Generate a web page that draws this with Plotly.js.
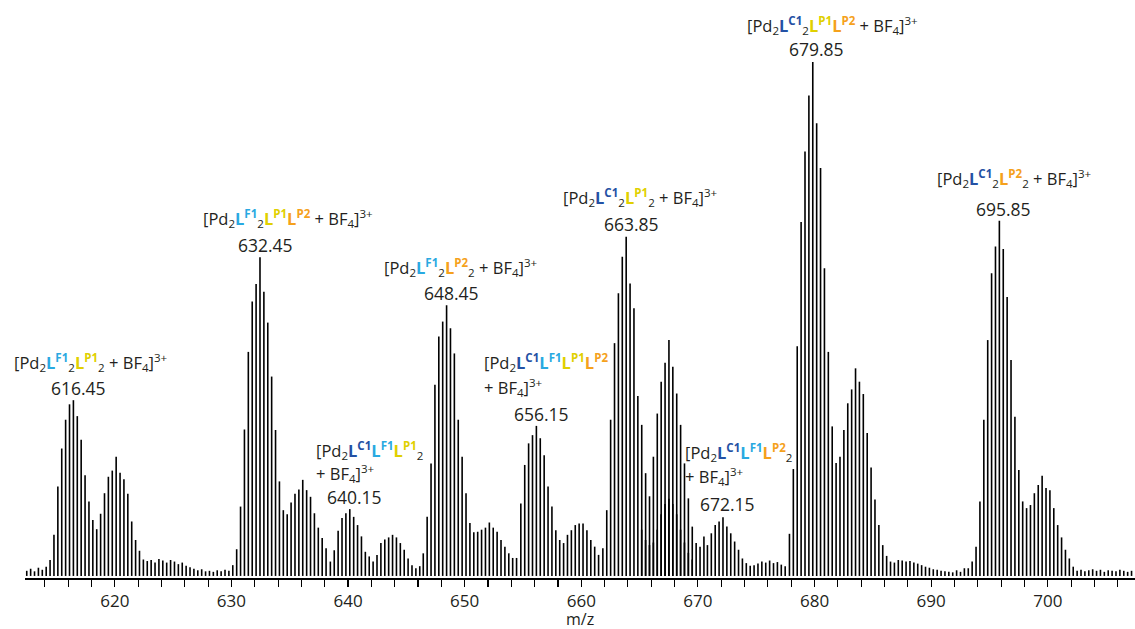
<!DOCTYPE html>
<html>
<head>
<meta charset="utf-8">
<script src="https://cdn.plot.ly/plotly-3.0.1.min.js"></script>
<style>
  html, body { margin: 0; padding: 0; background: #ffffff; }
  #chart { width: 1135px; height: 629px; }
</style>
</head>
<body>
<div id="chart"></div>
<script>
// ESI-MS of the [Pd2L4 + BF4]3+ library: isotope sticks of 3+ ions are 1/3 m/z apart.
const ISO_STEP = 1 / 3;

// Most abundant isotope of each species (m/z), as labelled.
const apexMz = [616.45, 632.45, 640.15, 648.45, 656.15, 663.85, 672.15, 679.85, 695.85];

// Number of isotope sticks listed before each apex.
const sticksBeforeApex = [12, 7, 5, 6, 4, 6, 4, 6, 8];

// Relative intensities (%) of the sticks around each apex.
const int616 = [1.0, 1.4, 0.9, 1.6, 1.2, 1.8,
  3.1, 8.0, 17.4, 24.8, 30.4, 33.4, 34.2, 31.1, 26.5, 19.6, 14.5, 10.9, 9.1, 12.1, 16.1, 19.3,
  20.5, 23.2, 20.1, 18.8, 16.0, 10.6, 7.0, 4.9, 3.2, 2.9, 3.1, 2.6, 3.3, 3.0, 2.6, 3.1, 2.8,
  2.3, 2.6, 2.0, 1.7, 1.4, 1.1, 1.3, 0.9, 1.0, 0.8, 1.1, 0.9, 1.2, 1.0];
const int632 = [2.1, 5.2, 13.5, 28.5, 43.6, 53.4, 56.8, 62.0, 55.3, 49.3, 38.8, 28.4, 18.4,
  12.8, 12.0, 14.3, 16.0, 16.8, 18.7, 16.7, 15.4, 12.2, 9.4, 7.4, 5.4];
const int640 = [2.8, 5.0, 8.8, 11.3, 12.2, 13.0, 11.5, 9.9, 7.7, 4.7, 3.8, 2.8, 4.1, 6.4, 7.1,
  7.5, 8.0, 7.5, 6.4, 5.1, 3.4, 2.1, 1.5, 1.9];
const int648 = [4.4, 11.5, 21.9, 37.2, 46.6, 49.5, 52.7, 48.2, 43.3, 30.4, 23.2, 16.1, 10.3,
  8.5, 8.6, 9.0, 9.4, 10.4, 9.4, 8.6, 7.0, 5.7, 4.4, 3.5, 3.5];
const int656 = [14.1, 21.6, 25.8, 27.4, 29.2, 26.8, 23.5, 17.4, 13.5, 8.9, 7.0, 6.4, 8.0, 8.9,
  9.9, 10.2, 10.2, 8.9, 7.0, 5.7, 4.1];
const int663 = [5.4, 12.8, 30.4, 45.3, 55.0, 62.1, 66.0, 56.9, 52.1, 35.0, 29.4, 20.0, 15.5,
  23.2, 31.6, 37.8, 41.5, 45.9, 40.7, 35.5, 29.4, 21.9, 15.1, 9.6, 6.4, 5.7, 7.7];
const int672 = [6.0, 8.3, 9.9, 10.6, 11.4, 9.6, 8.3, 6.7, 5.1, 3.4, 2.5, 2.0, 2.1, 2.4, 2.8,
  2.6, 3.0, 2.5, 2.7, 2.2, 1.9];
const int679 = [8.2, 20.8, 44.7, 68.9, 82.6, 93.5, 100, 88.1, 79.4, 59.9, 43.6, 29.1, 22.0,
  23.2, 28.4, 33.6, 36.3, 40.4, 37.8, 35.4, 27.8, 21.1, 14.9, 9.9, 6.0, 3.9, 2.8, 2.6, 3.1,
  3.0, 2.8, 2.9, 2.6, 2.4, 2.1, 1.8, 1.6, 1.3, 1.2, 1.0, 0.9, 0.8, 0.7, 1.1, 0.8, 1.5];
const int695 = [1.5, 2.8, 5.7, 14.5, 30.4, 45.9, 58.9, 64.1, 69.1, 63.6, 54.3, 42.0, 31.0,
  20.6, 14.5, 13.2, 13.8, 16.1, 17.7, 19.5, 17.1, 16.7, 13.2, 9.9, 7.5, 5.1, 3.4, 1.8, 1.0,
  1.2, 0.9, 1.1, 1.3, 1.0, 1.2, 0.8, 1.1, 1.0, 0.9, 1.2, 1.0, 0.8, 1.0];
const clusterInt = [int616, int632, int640, int648, int656, int663, int672, int679, int695];

// Overlapping minor species between the 663.85 and 672.15 envelopes.
const minorStartMz = [665.18];
const minorInt = [
  [9.0, 7.0, 6.0, 6.5, 9.0, 12.0, 14.0, 15.0, 14.0, 12.0, 9.0, 6.5, 4.5, 3.2]
];

// Species formulas for each labelled apex.
const C1 = '#2451a4', F1 = '#29a9e1', P1 = '#e0d000', P2 = '#f5a11c';
function lig(tag, color) {
  return '<span style="color:' + color + '"><b>L</b><sup><b>' + tag + '</b></sup></span>';
}
const PD = '[Pd<sub>2</sub>';
const TAIL = ' + BF<sub>4</sub>]<sup>3+</sup>';
const formulaLines = [
  [PD + lig('F1', F1) + '<sub>2</sub>' + lig('P1', P1) + '<sub>2</sub>' + TAIL],
  [PD + lig('F1', F1) + '<sub>2</sub>' + lig('P1', P1) + lig('P2', P2) + TAIL],
  [PD + lig('C1', C1) + lig('F1', F1) + lig('P1', P1) + '<sub>2</sub>', TAIL.trim()],
  [PD + lig('F1', F1) + '<sub>2</sub>' + lig('P2', P2) + '<sub>2</sub>' + TAIL],
  [PD + lig('C1', C1) + lig('F1', F1) + lig('P1', P1) + lig('P2', P2), TAIL.trim()],
  [PD + lig('C1', C1) + '<sub>2</sub>' + lig('P1', P1) + '<sub>2</sub>' + TAIL],
  [PD + lig('C1', C1) + lig('F1', F1) + lig('P2', P2) + '<sub>2</sub>', TAIL.trim()],
  [PD + lig('C1', C1) + '<sub>2</sub>' + lig('P1', P1) + lig('P2', P2) + TAIL],
  [PD + lig('C1', C1) + '<sub>2</sub>' + lig('P2', P2) + '<sub>2</sub>' + TAIL]
];

// Build the stick spectrum: one vertical segment per isotope peak.
const sx = [], sy = [];
function addStick(m, h) { sx.push(m, m, null); sy.push(0, h, null); }
clusterInt.forEach(function (arr, c) {
  arr.forEach(function (h, i) { addStick(apexMz[c] + (i - sticksBeforeApex[c]) * ISO_STEP, h); });
});
minorInt.forEach(function (arr, c) {
  arr.forEach(function (h, i) { addStick(minorStartMz[c] + i * ISO_STEP, h); });
});

const traces = [{
  type: 'scatter', mode: 'lines', x: sx, y: sy,
  line: { color: '#000000', width: 1.6 },
  hoverinfo: 'skip', showlegend: false
}];

// Plot geometry (pixels) used to place the labels.
const W = 1135, H = 629, ML = 25, MR = 0, MT = 10, MB = 51;
const X_RANGE = [612.3, 707.48], Y_RANGE = [-0.4, 110.13];
const pw = W - ML - MR, ph = H - MT - MB;
function xData(px) { return X_RANGE[0] + (px - ML) / pw * (X_RANGE[1] - X_RANGE[0]); }
function yData(py) { return Y_RANGE[0] + (H - MB - py) / ph * (Y_RANGE[1] - Y_RANGE[0]); }

// Label placement: formula line positions and value positions.
const formulaPos = [
  [[90.5, 362, 'center']],
  [[288, 218, 'center']],
  [[314, 450, 'left'], [314, 473, 'left']],
  [[460, 267, 'center']],
  [[482, 362, 'left'], [482, 387, 'left']],
  [[640, 197, 'center']],
  [[683, 452, 'left'], [683, 476, 'left']],
  [[832.5, 25, 'center']],
  [[1013.5, 178, 'center']]
];
const valuePos = [[78, 388], [265, 245], [354, 497], [451, 293], [541, 414],
  [631.5, 224], [727.5, 504], [816.7, 49], [1003.7, 209]];

const TXT = '#231f20';
const FONT = 'Open Sans, Noto Sans, sans-serif';
const annotations = [];
formulaLines.forEach(function (lines, c) {
  lines.forEach(function (t, j) {
    const p = formulaPos[c][j];
    annotations.push({
      xref: 'x', yref: 'y', x: xData(p[0]), y: yData(p[1]),
      text: t, showarrow: false, xanchor: p[2], yanchor: 'middle',
      font: { family: FONT, size: 16.5, color: TXT }
    });
  });
  annotations.push({
    xref: 'x', yref: 'y', x: xData(valuePos[c][0]), y: yData(valuePos[c][1]),
    text: apexMz[c].toFixed(2), showarrow: false, xanchor: 'center', yanchor: 'middle',
    font: { family: FONT, size: 17.5, color: TXT }
  });
});

// x-axis title, below the tick labels near the bottom edge
annotations.push({
  xref: 'paper', yref: 'paper', x: 0.5, y: -(619 - (H - MB)) / ph,
  text: 'm/z', showarrow: false, xanchor: 'center', yanchor: 'middle',
  borderpad: 0, font: { family: FONT, size: 16, color: TXT }
});

const layout = {
  width: W, height: H,
  margin: { l: ML, r: MR, t: MT, b: MB, pad: 0 },
  paper_bgcolor: '#ffffff', plot_bgcolor: '#ffffff',
  showlegend: false,
  xaxis: {
    range: X_RANGE, showgrid: false, zeroline: false,
    showline: true, linecolor: '#000000', linewidth: 1.5,
    ticks: 'outside', ticklen: 7, tickwidth: 1.1, tickcolor: '#000000',
    tick0: 0, dtick: 10,
    minor: { dtick: 2, tick0: 0, ticks: 'outside', ticklen: 7, tickwidth: 1.1, tickcolor: '#000000', showgrid: false },
    tickfont: { family: FONT, size: 17, color: TXT },
    fixedrange: true
  },
  yaxis: { range: Y_RANGE, visible: false, fixedrange: true },
  annotations: annotations
};

Plotly.newPlot('chart', traces, layout, { displayModeBar: false, staticPlot: true });
</script>
</body>
</html>
